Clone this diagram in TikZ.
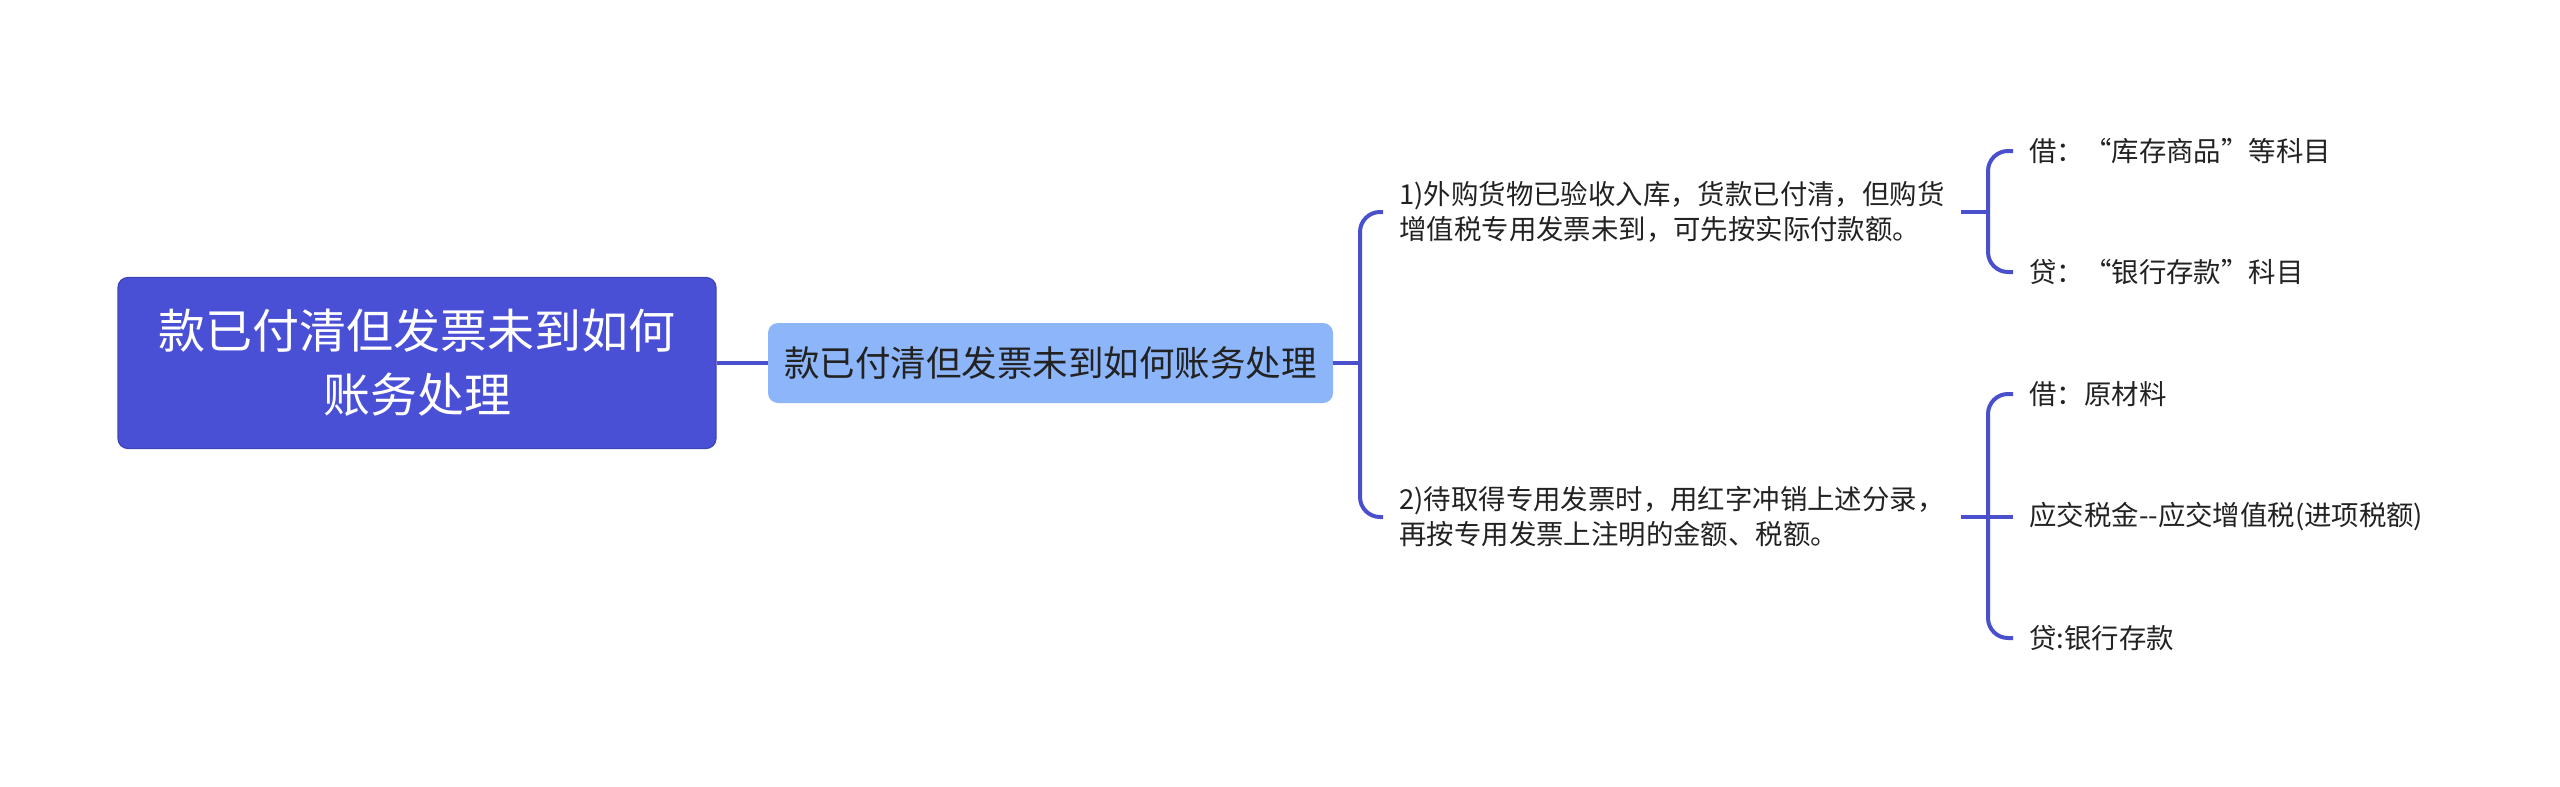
\documentclass[tikz,border=0pt]{standalone}
\usepackage{fontspec}
\setmainfont{Noto Sans CJK SC}

\definecolor{rootblue}{HTML}{4A50D6}
\definecolor{linkblue}{HTML}{4A50CC}
\definecolor{subblue}{HTML}{8DB5F9}
\definecolor{textgray}{HTML}{222222}

\tikzstyle{rootbox}=[rectangle,rounded corners=5pt,fill=rootblue,draw=rootblue!85!black,line width=0.6pt,text=white,minimum width=299pt,minimum height=85.5pt,align=center,font=\fontsize{23.5pt}{32pt}\selectfont]
\tikzstyle{subbox}=[rectangle,rounded corners=5pt,fill=subblue,text=textgray,minimum width=282.5pt,minimum height=40pt,font=\fontsize{17.75pt}{20pt}\selectfont]
\tikzstyle{leaf}=[anchor=west,inner xsep=8pt,inner ysep=2pt,align=left,text=textgray,font=\fontsize{13.7pt}{17.5pt}\selectfont]
\tikzstyle{link}=[draw=linkblue,line width=2pt]

\begin{document}
\begin{tikzpicture}[x=0.5pt,y=-0.5pt]
			\fill[white] (0,0) rectangle (2560,787);
			\useasboundingbox (0,0) rectangle (2560,787);
			\node[rootbox] (root) at (417,363) {款已付清但发票未到如何\\账务处理};
			\node[subbox] (sub) at (1050.5,363) {款已付清但发票未到如何账务处理};
			\node[leaf] (p1) at (1383,212) {1)外购货物已验收入库，货款已付清，但购货\\增值税专用发票未到，可先按实际付款额。};
			\node[leaf] (p2) at (1383,517) {2)待取得专用发票时，用红字冲销上述分录，\\再按专用发票上注明的金额、税额。};
			\node[leaf] (d1) at (2013,151) {借：“库存商品”等科目};
			\node[leaf] (c1) at (2013,272) {贷：“银行存款”科目};
			\node[leaf] (d2) at (2013,394) {借：原材料};
			\node[leaf] (t2) at (2013,517) {应交税金-\kern0pt-应交增值税(进项税额)};
			\node[leaf] (c2) at (2013,638) {贷:银行存款};
			\coordinate (j0) at (1360,363);
			\coordinate (j1) at (1988,212);
			\coordinate (j2) at (1988,517);
			% then the connectors
			\draw[link] (root.east) -- (sub.west);
			\draw[link] (sub.east) -- (j0);
			\draw[link,rounded corners=10pt] (p1.west) -| (j0) |- (p2.west);
			\draw[link] (p1.east) -- (j1);
			\draw[link,rounded corners=10pt] (d1.west) -| (j1) |- (c1.west);
			\draw[link] (p2.east) -- (j2);
			\draw[link,rounded corners=10pt] (d2.west) -| (j2) |- (c2.west);
			\draw[link] (j2) -- (t2.west);
		\end{tikzpicture}
\end{document}
